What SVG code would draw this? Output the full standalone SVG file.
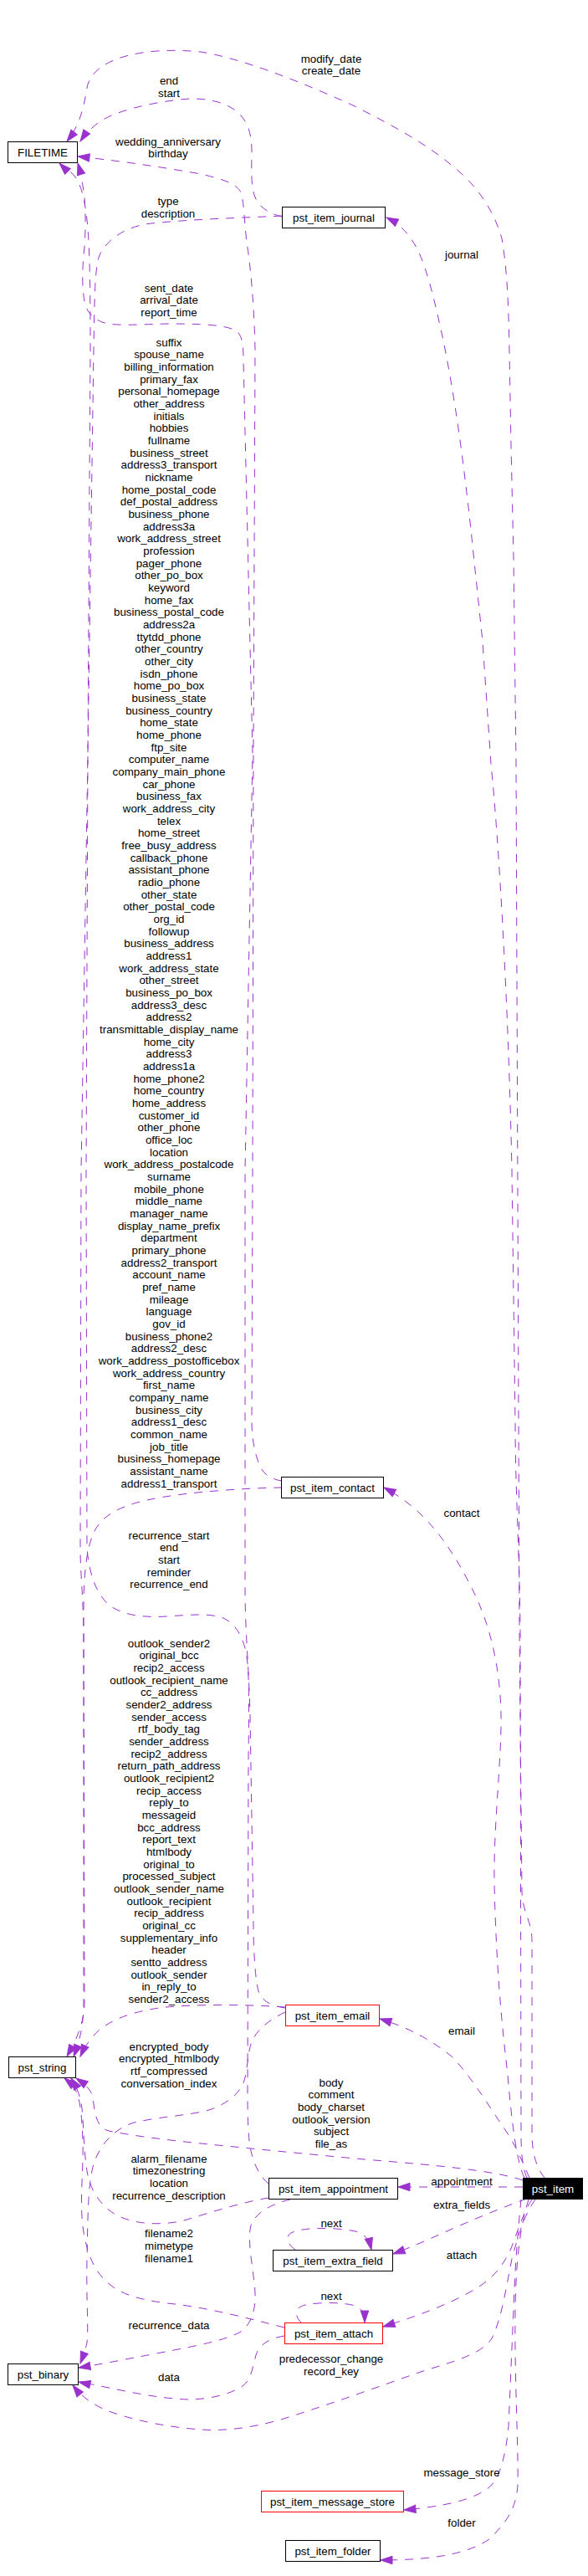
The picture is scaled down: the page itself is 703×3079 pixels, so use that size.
<svg xmlns="http://www.w3.org/2000/svg" width="703" height="3079" viewBox="0 0 703 3079">
<style>
.e{fill:none;stroke:#9a32cd;stroke-width:1;stroke-dasharray:10,9;marker-end:url(#a)}
text{font-family:"Liberation Sans",Arial,Helvetica,sans-serif;font-size:13.33px;fill:#000;text-anchor:middle}
.b{fill:#fff;stroke:#000;stroke-width:1}
.r{fill:#fff;stroke:#f00;stroke-width:1}
</style>
<defs>
<marker id="a" markerUnits="userSpaceOnUse" markerWidth="16" markerHeight="12" refX="14" refY="4.7" orient="auto" overflow="visible">
<path d="M0,0 L14,4.7 L0,9.4 z" fill="#9a32cd" stroke="#9a32cd" stroke-width="1" stroke-dasharray="none"/>
</marker>
</defs>
<rect width="703" height="3079" fill="#fff"/>
<g id="edges">
<path class="e" d="M651,2603 C642,2592 636,2575 636,2550 L636,2320 C636,2295 624,2285 624,2260 L621,1950 L617,913 L614,667 L611,533 L609,420 C608,360 606,320 600,285 C590,250 570,222 543,200 C510,172 470,150 420,125 C360,98 290,70 240,62 C170,55 110,70 104,105 C100,130 95,150 80,169"/>
<path class="e" d="M630,2603 C625,2592 623,2575 623,2550 L622,1950 C621,1850 616,1780 616,1700 L612,1400 C608,1200 596,1000 587,913 L577,767 L563,633 C555,560 545,480 530,407 C522,370 512,325 500,300 C492,284 482,270 462,260"/>
<path class="e" d="M337,259 C325,256 312,250 306,238 C299,224 301,200 301,180 C301,160 296,142 280,131 C264,120 240,116 215,119 C180,123 140,132 120,145 C110,152 102,160 96,169"/>
<path class="e" d="M337,1770 C322,1768 312,1760 308,1745 C303,1730 301,1715 301,1700 L302,1400 L303,900 L305,417 C304,370 300,320 295,290 C292,265 292,242 288,230 C283,220 270,215 240,208 C190,199 140,192 93,187"/>
<path class="e" d="M341,2400 C325,2398 313,2392 309,2380 C305,2365 303,2330 303,2300 L299,2050 C298,2000 293,1950 293,1900 L293,1400 L302,900 L291,430 C291,410 289,400 282,395 C268,388 240,387 200,387 C160,388 135,390 122,385 C110,380 103,372 101,360 C98,345 98,320 101,295 C103,270 102,240 100,228 C98,215 96,205 93,195"/>
<path class="e" d="M321,2610 C312,2603 305,2590 301,2575 C297,2560 296,2540 296,2500 L297,2100 C298,2020 298,1990 293,1970 C288,1952 280,1940 267,1934 C250,1928 230,1930 200,1932 C170,1934 145,1930 130,1918 C115,1905 106,1880 104,1850 L103,1400 L105,900 L108,417 C108,330 107,283 103,255 C100,232 95,215 86,207 C80,202 75,199 71,195"/>
<path class="e" d="M337,258 C300,260 220,262 173,268 C145,274 127,288 119,305 C113,320 113,360 112,417 L105,900 L97,1400 L96,1850 C96,1880 99,1900 100,1950 L101,2390 C101,2420 90,2440 80,2458"/>
<path class="e" d="M337,1778 C280,1779 200,1785 160,1797 C135,1805 120,1815 112,1832 C104,1850 101,1875 100,1910 L100,2400 C99,2425 95,2440 88,2458"/>
<path class="e" d="M341,2399 C300,2396 230,2395 190,2400 C150,2406 125,2418 112,2433 C105,2441 100,2449 96,2458"/>
<path class="e" d="M341,2405 C320,2415 305,2428 300,2443 C295,2460 296,2480 290,2492 C283,2505 270,2515 250,2522 C230,2528 190,2530 160,2537 C135,2545 118,2565 111,2590 C105,2615 105,2650 104,2700 C103,2750 106,2780 104,2800 C102,2810 99,2817 96,2825"/>
<path class="e" d="M625,2606 C590,2594 520,2588 436,2581 C370,2575 300,2568 250,2563 C200,2558 160,2553 130,2547 C115,2543 113,2525 111,2507 C109,2497 100,2490 91,2484"/>
<path class="e" d="M321,2627 C290,2632 250,2645 220,2654 C190,2661 160,2658 140,2648 C120,2637 108,2618 104,2595 C100,2570 100,2540 98,2520 C96,2505 92,2495 85,2484"/>
<path class="e" d="M340,2782 C300,2772 250,2758 200,2753 C160,2748 140,2740 125,2725 C108,2708 100,2680 98,2650 C96,2620 100,2590 99,2560 C98,2530 96,2508 90,2498 C86,2492 82,2488 77,2484"/>
<path class="e" d="M347,2629 C325,2634 305,2645 300,2660 C295,2680 303,2710 305,2740 C306,2762 300,2778 288,2787 C270,2797 240,2803 187,2813 C150,2820 120,2826 94,2830"/>
<path class="e" d="M340,2792 C322,2795 310,2802 306,2815 C302,2830 300,2845 290,2852 C275,2862 250,2868 225,2868 C190,2867 150,2858 125,2853 C112,2850 103,2849 94,2847"/>
<path class="e" d="M640,2629 C628,2645 620,2670 612,2700 C604,2740 600,2770 588,2795 C575,2815 540,2823 503,2835 C460,2850 400,2872 336,2892 C300,2902 270,2906 240,2904 C200,2901 160,2893 130,2882 C112,2875 98,2865 87,2851"/>
<path class="e" d="M625,2614 L476,2614"/>
<path class="e" d="M630,2628 C610,2635 580,2647 550,2660 C520,2673 495,2685 470,2694"/>
<path class="e" d="M636,2629 C625,2645 618,2670 610,2690 C600,2710 590,2722 570,2735 C545,2750 510,2765 458,2781"/>
<path class="e" d="M623,2629 C620,2660 616,2700 614,2760 L608,2900 C605,2930 600,2955 588,2970 C570,2988 530,2996 483,3000"/>
<path class="e" d="M632,2629 C622,2660 617,2700 616,2760 C615,2850 620,2920 619,2970 C617,3000 605,3015 585,3035 C560,3052 520,3060 455,3060"/>
<path class="e" d="M353,2689 C343,2682 340,2672 350,2668 C365,2662 400,2662 425,2667 C436,2670 441,2676 444,2689"/>
<path class="e" d="M360,2776 C352,2768 352,2758 365,2755 C385,2751 410,2752 425,2756 C433,2760 436,2766 436,2776"/>
<path class="e" d="M627,2603 C618,2585 612,2540 607,2480 C600,2420 593,2350 591,2250 C590,2180 600,2100 599,2050 C598,1990 585,1940 565,1900 C540,1850 510,1805 459,1778"/>
<path class="e" d="M633,2603 C625,2585 615,2560 600,2540 C580,2510 560,2478 540,2458 C515,2438 490,2424 454,2413"/>
</g>
<g id="edge-labels">
<text x="396" y="74.5"><tspan x="396">modify_date</tspan><tspan x="396" dy="14.667">create_date</tspan></text>
<text x="202" y="101.2"><tspan x="202">end</tspan><tspan x="202" dy="14.667">start</tspan></text>
<text x="201" y="173.5"><tspan x="201">wedding_anniversary</tspan><tspan x="201" dy="14.667">birthday</tspan></text>
<text x="201" y="245.2"><tspan x="201">type</tspan><tspan x="201" dy="14.667">description</tspan></text>
<text x="552" y="308.8">journal</text>
<text x="202" y="348.8"><tspan x="202">sent_date</tspan><tspan x="202" dy="14.667">arrival_date</tspan><tspan x="202" dy="14.667">report_time</tspan></text>
<text x="202" y="413.8"><tspan x="202">suffix</tspan><tspan x="202" dy="14.667">spouse_name</tspan><tspan x="202" dy="14.667">billing_information</tspan><tspan x="202" dy="14.667">primary_fax</tspan><tspan x="202" dy="14.667">personal_homepage</tspan><tspan x="202" dy="14.667">other_address</tspan><tspan x="202" dy="14.667">initials</tspan><tspan x="202" dy="14.667">hobbies</tspan><tspan x="202" dy="14.667">fullname</tspan><tspan x="202" dy="14.667">business_street</tspan><tspan x="202" dy="14.667">address3_transport</tspan><tspan x="202" dy="14.667">nickname</tspan><tspan x="202" dy="14.667">home_postal_code</tspan><tspan x="202" dy="14.667">def_postal_address</tspan><tspan x="202" dy="14.667">business_phone</tspan><tspan x="202" dy="14.667">address3a</tspan><tspan x="202" dy="14.667">work_address_street</tspan><tspan x="202" dy="14.667">profession</tspan><tspan x="202" dy="14.667">pager_phone</tspan><tspan x="202" dy="14.667">other_po_box</tspan><tspan x="202" dy="14.667">keyword</tspan><tspan x="202" dy="14.667">home_fax</tspan><tspan x="202" dy="14.667">business_postal_code</tspan><tspan x="202" dy="14.667">address2a</tspan><tspan x="202" dy="14.667">ttytdd_phone</tspan><tspan x="202" dy="14.667">other_country</tspan><tspan x="202" dy="14.667">other_city</tspan><tspan x="202" dy="14.667">isdn_phone</tspan><tspan x="202" dy="14.667">home_po_box</tspan><tspan x="202" dy="14.667">business_state</tspan><tspan x="202" dy="14.667">business_country</tspan><tspan x="202" dy="14.667">home_state</tspan><tspan x="202" dy="14.667">home_phone</tspan><tspan x="202" dy="14.667">ftp_site</tspan><tspan x="202" dy="14.667">computer_name</tspan><tspan x="202" dy="14.667">company_main_phone</tspan><tspan x="202" dy="14.667">car_phone</tspan><tspan x="202" dy="14.667">business_fax</tspan><tspan x="202" dy="14.667">work_address_city</tspan><tspan x="202" dy="14.667">telex</tspan><tspan x="202" dy="14.667">home_street</tspan><tspan x="202" dy="14.667">free_busy_address</tspan><tspan x="202" dy="14.667">callback_phone</tspan><tspan x="202" dy="14.667">assistant_phone</tspan><tspan x="202" dy="14.667">radio_phone</tspan><tspan x="202" dy="14.667">other_state</tspan><tspan x="202" dy="14.667">other_postal_code</tspan><tspan x="202" dy="14.667">org_id</tspan><tspan x="202" dy="14.667">followup</tspan><tspan x="202" dy="14.667">business_address</tspan><tspan x="202" dy="14.667">address1</tspan><tspan x="202" dy="14.667">work_address_state</tspan><tspan x="202" dy="14.667">other_street</tspan><tspan x="202" dy="14.667">business_po_box</tspan><tspan x="202" dy="14.667">address3_desc</tspan><tspan x="202" dy="14.667">address2</tspan><tspan x="202" dy="14.667">transmittable_display_name</tspan><tspan x="202" dy="14.667">home_city</tspan><tspan x="202" dy="14.667">address3</tspan><tspan x="202" dy="14.667">address1a</tspan><tspan x="202" dy="14.667">home_phone2</tspan><tspan x="202" dy="14.667">home_country</tspan><tspan x="202" dy="14.667">home_address</tspan><tspan x="202" dy="14.667">customer_id</tspan><tspan x="202" dy="14.667">other_phone</tspan><tspan x="202" dy="14.667">office_loc</tspan><tspan x="202" dy="14.667">location</tspan><tspan x="202" dy="14.667">work_address_postalcode</tspan><tspan x="202" dy="14.667">surname</tspan><tspan x="202" dy="14.667">mobile_phone</tspan><tspan x="202" dy="14.667">middle_name</tspan><tspan x="202" dy="14.667">manager_name</tspan><tspan x="202" dy="14.667">display_name_prefix</tspan><tspan x="202" dy="14.667">department</tspan><tspan x="202" dy="14.667">primary_phone</tspan><tspan x="202" dy="14.667">address2_transport</tspan><tspan x="202" dy="14.667">account_name</tspan><tspan x="202" dy="14.667">pref_name</tspan><tspan x="202" dy="14.667">mileage</tspan><tspan x="202" dy="14.667">language</tspan><tspan x="202" dy="14.667">gov_id</tspan><tspan x="202" dy="14.667">business_phone2</tspan><tspan x="202" dy="14.667">address2_desc</tspan><tspan x="202" dy="14.667">work_address_postofficebox</tspan><tspan x="202" dy="14.667">work_address_country</tspan><tspan x="202" dy="14.667">first_name</tspan><tspan x="202" dy="14.667">company_name</tspan><tspan x="202" dy="14.667">business_city</tspan><tspan x="202" dy="14.667">address1_desc</tspan><tspan x="202" dy="14.667">common_name</tspan><tspan x="202" dy="14.667">job_title</tspan><tspan x="202" dy="14.667">business_homepage</tspan><tspan x="202" dy="14.667">assistant_name</tspan><tspan x="202" dy="14.667">address1_transport</tspan></text>
<text x="552" y="1813.2">contact</text>
<text x="202" y="1839.8"><tspan x="202">recurrence_start</tspan><tspan x="202" dy="14.667">end</tspan><tspan x="202" dy="14.667">start</tspan><tspan x="202" dy="14.667">reminder</tspan><tspan x="202" dy="14.667">recurrence_end</tspan></text>
<text x="202" y="1968.8"><tspan x="202">outlook_sender2</tspan><tspan x="202" dy="14.667">original_bcc</tspan><tspan x="202" dy="14.667">recip2_access</tspan><tspan x="202" dy="14.667">outlook_recipient_name</tspan><tspan x="202" dy="14.667">cc_address</tspan><tspan x="202" dy="14.667">sender2_address</tspan><tspan x="202" dy="14.667">sender_access</tspan><tspan x="202" dy="14.667">rtf_body_tag</tspan><tspan x="202" dy="14.667">sender_address</tspan><tspan x="202" dy="14.667">recip2_address</tspan><tspan x="202" dy="14.667">return_path_address</tspan><tspan x="202" dy="14.667">outlook_recipient2</tspan><tspan x="202" dy="14.667">recip_access</tspan><tspan x="202" dy="14.667">reply_to</tspan><tspan x="202" dy="14.667">messageid</tspan><tspan x="202" dy="14.667">bcc_address</tspan><tspan x="202" dy="14.667">report_text</tspan><tspan x="202" dy="14.667">htmlbody</tspan><tspan x="202" dy="14.667">original_to</tspan><tspan x="202" dy="14.667">processed_subject</tspan><tspan x="202" dy="14.667">outlook_sender_name</tspan><tspan x="202" dy="14.667">outlook_recipient</tspan><tspan x="202" dy="14.667">recip_address</tspan><tspan x="202" dy="14.667">original_cc</tspan><tspan x="202" dy="14.667">supplementary_info</tspan><tspan x="202" dy="14.667">header</tspan><tspan x="202" dy="14.667">sentto_address</tspan><tspan x="202" dy="14.667">outlook_sender</tspan><tspan x="202" dy="14.667">in_reply_to</tspan><tspan x="202" dy="14.667">sender2_access</tspan></text>
<text x="552" y="2431.8">email</text>
<text x="202" y="2450.5"><tspan x="202">encrypted_body</tspan><tspan x="202" dy="14.667">encrypted_htmlbody</tspan><tspan x="202" dy="14.667">rtf_compressed</tspan><tspan x="202" dy="14.667">conversation_index</tspan></text>
<text x="396" y="2493.8"><tspan x="396">body</tspan><tspan x="396" dy="14.667">comment</tspan><tspan x="396" dy="14.667">body_charset</tspan><tspan x="396" dy="14.667">outlook_version</tspan><tspan x="396" dy="14.667">subject</tspan><tspan x="396" dy="14.667">file_as</tspan></text>
<text x="202" y="2584.8"><tspan x="202">alarm_filename</tspan><tspan x="202" dy="14.667">timezonestring</tspan><tspan x="202" dy="14.667">location</tspan><tspan x="202" dy="14.667">recurrence_description</tspan></text>
<text x="552" y="2612">appointment</text>
<text x="552" y="2639.8">extra_fields</text>
<text x="396" y="2662.2">next</text>
<text x="202" y="2674.2"><tspan x="202">filename2</tspan><tspan x="202" dy="14.667">mimetype</tspan><tspan x="202" dy="14.667">filename1</tspan></text>
<text x="552" y="2699.8">attach</text>
<text x="396" y="2749.2">next</text>
<text x="202" y="2783.8">recurrence_data</text>
<text x="396" y="2824.2"><tspan x="396">predecessor_change</tspan><tspan x="396" dy="14.667">record_key</tspan></text>
<text x="202" y="2846.2">data</text>
<text x="552" y="2960.2">message_store</text>
<text x="552" y="3019.8">folder</text>
</g>
<g id="FILETIME"><rect class="b" x="9.5" y="169.5" width="83" height="25"/><text x="51" y="186.5">FILETIME</text></g>
<g id="pst_item_journal"><rect class="b" x="337.5" y="247.5" width="123" height="25"/><text x="399" y="264.5">pst_item_journal</text></g>
<g id="pst_item_contact"><rect class="b" x="336.5" y="1765.5" width="122" height="25"/><text x="397.5" y="1782.5">pst_item_contact</text></g>
<g id="pst_item_email"><rect class="r" x="341.5" y="2396.5" width="112" height="25"/><text x="397.5" y="2413.5">pst_item_email</text></g>
<g id="pst_string"><rect class="b" x="10.5" y="2458.5" width="80" height="25"/><text x="50.5" y="2475.5">pst_string</text></g>
<g id="pst_item_appointment"><rect class="b" x="321.5" y="2603.5" width="154" height="25"/><text x="398.5" y="2620.5">pst_item_appointment</text></g>
<g id="pst_item"><rect x="625.5" y="2603.5" width="71" height="25" fill="#000" stroke="#000"/><text x="661" y="2620.5" style="fill:#fff">pst_item</text></g>
<g id="pst_item_extra_field"><rect class="b" x="326.5" y="2689.5" width="143" height="25"/><text x="398" y="2706.5">pst_item_extra_field</text></g>
<g id="pst_item_attach"><rect class="r" x="340.5" y="2776.5" width="117" height="25"/><text x="399" y="2793.5">pst_item_attach</text></g>
<g id="pst_binary"><rect class="b" x="9.5" y="2825.5" width="84" height="25"/><text x="51.5" y="2842.5">pst_binary</text></g>
<g id="pst_item_message_store"><rect class="r" x="312.5" y="2977.5" width="170" height="25"/><text x="397.5" y="2994.5">pst_item_message_store</text></g>
<g id="pst_item_folder"><rect class="b" x="341.5" y="3036.5" width="113" height="25"/><text x="398" y="3053.5">pst_item_folder</text></g>
</svg>
